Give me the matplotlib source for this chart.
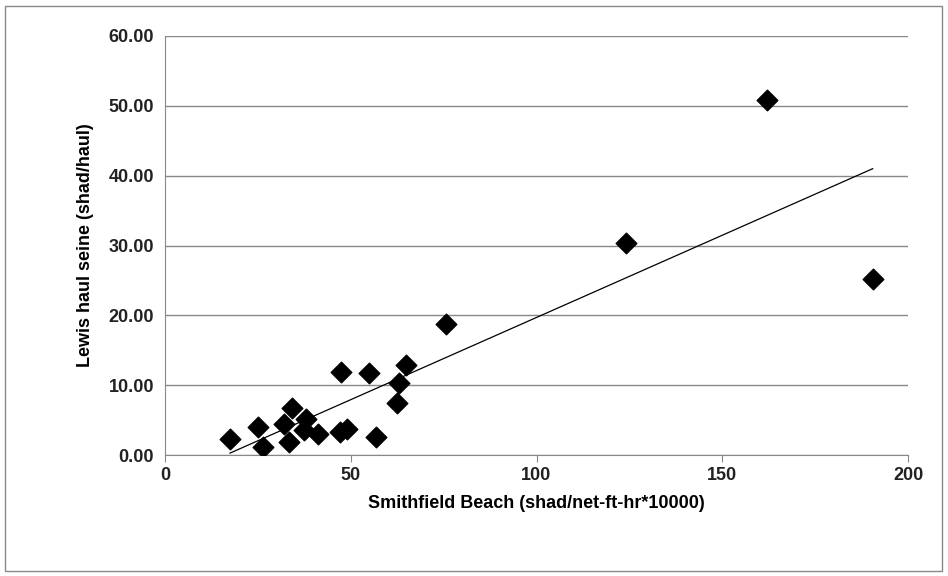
import numpy as np
import matplotlib
matplotlib.use('Agg')
import matplotlib.pyplot as plt
from matplotlib.patches import Rectangle

smithfield = [17.5, 25.1, 26.5, 31.9, 34.1, 33.5, 37.9, 37.4, 41.3, 47.3, 47.1, 49.1,
              55.0, 56.8, 64.9, 63.0, 62.4, 75.6, 124.0, 162.0, 190.5]
lewis = [2.25, 3.97, 1.2, 4.4, 6.7, 1.9, 5.1, 3.6, 3.0, 11.9, 3.3, 3.7,
         11.8, 2.6, 12.9, 10.3, 7.5, 18.8, 30.3, 50.8, 25.2]

plt.rcParams['font.family'] = ['Liberation Sans', 'DejaVu Sans']
fig = plt.figure(figsize=(9.48, 5.76), dpi=100)
ax = fig.add_axes([165/948, 1-455/576, (908-165)/948, (455-36)/576])
fig.patches.append(Rectangle((5/948, 5/576), 937/948, 565/576, transform=fig.transFigure,
                             fill=False, edgecolor='#888888', lw=1))

ax.scatter(smithfield, lewis, marker='D', s=110, color='black', zorder=3)
m, b = np.polyfit(smithfield, lewis, 1)
xs = np.array([min(smithfield), max(smithfield)])
ax.plot(xs, m*xs + b, color='black', lw=0.9, zorder=2)

ax.set_xlim(0, 200)
ax.set_ylim(0, 60)
ax.set_xticks(range(0, 201, 50))
ax.set_yticks(range(0, 61, 10))
ax.set_yticklabels(['%.2f' % v for v in range(0, 61, 10)])
ax.yaxis.grid(True, color='#888888', lw=1)
ax.set_axisbelow(True)
for s in ['top', 'right']:
    ax.spines[s].set_visible(False)
for s in ['left', 'bottom']:
    ax.spines[s].set_color('#888888')
ax.tick_params(axis='y', length=0, labelsize=13, pad=8)
ax.tick_params(axis='x', length=5, color='#888888', labelsize=13, direction='out')
for t in ax.get_xticklabels() + ax.get_yticklabels():
    t.set_fontweight('bold')
    t.set_color('#222222')
ax.set_xlabel('Smithfield Beach (shad/net-ft-hr*10000)', fontsize=13, fontweight='bold', labelpad=8)
ax.set_ylabel('Lewis haul seine (shad/haul)', fontsize=13, fontweight='bold', labelpad=10)
fig.savefig('out.png', dpi=100)
